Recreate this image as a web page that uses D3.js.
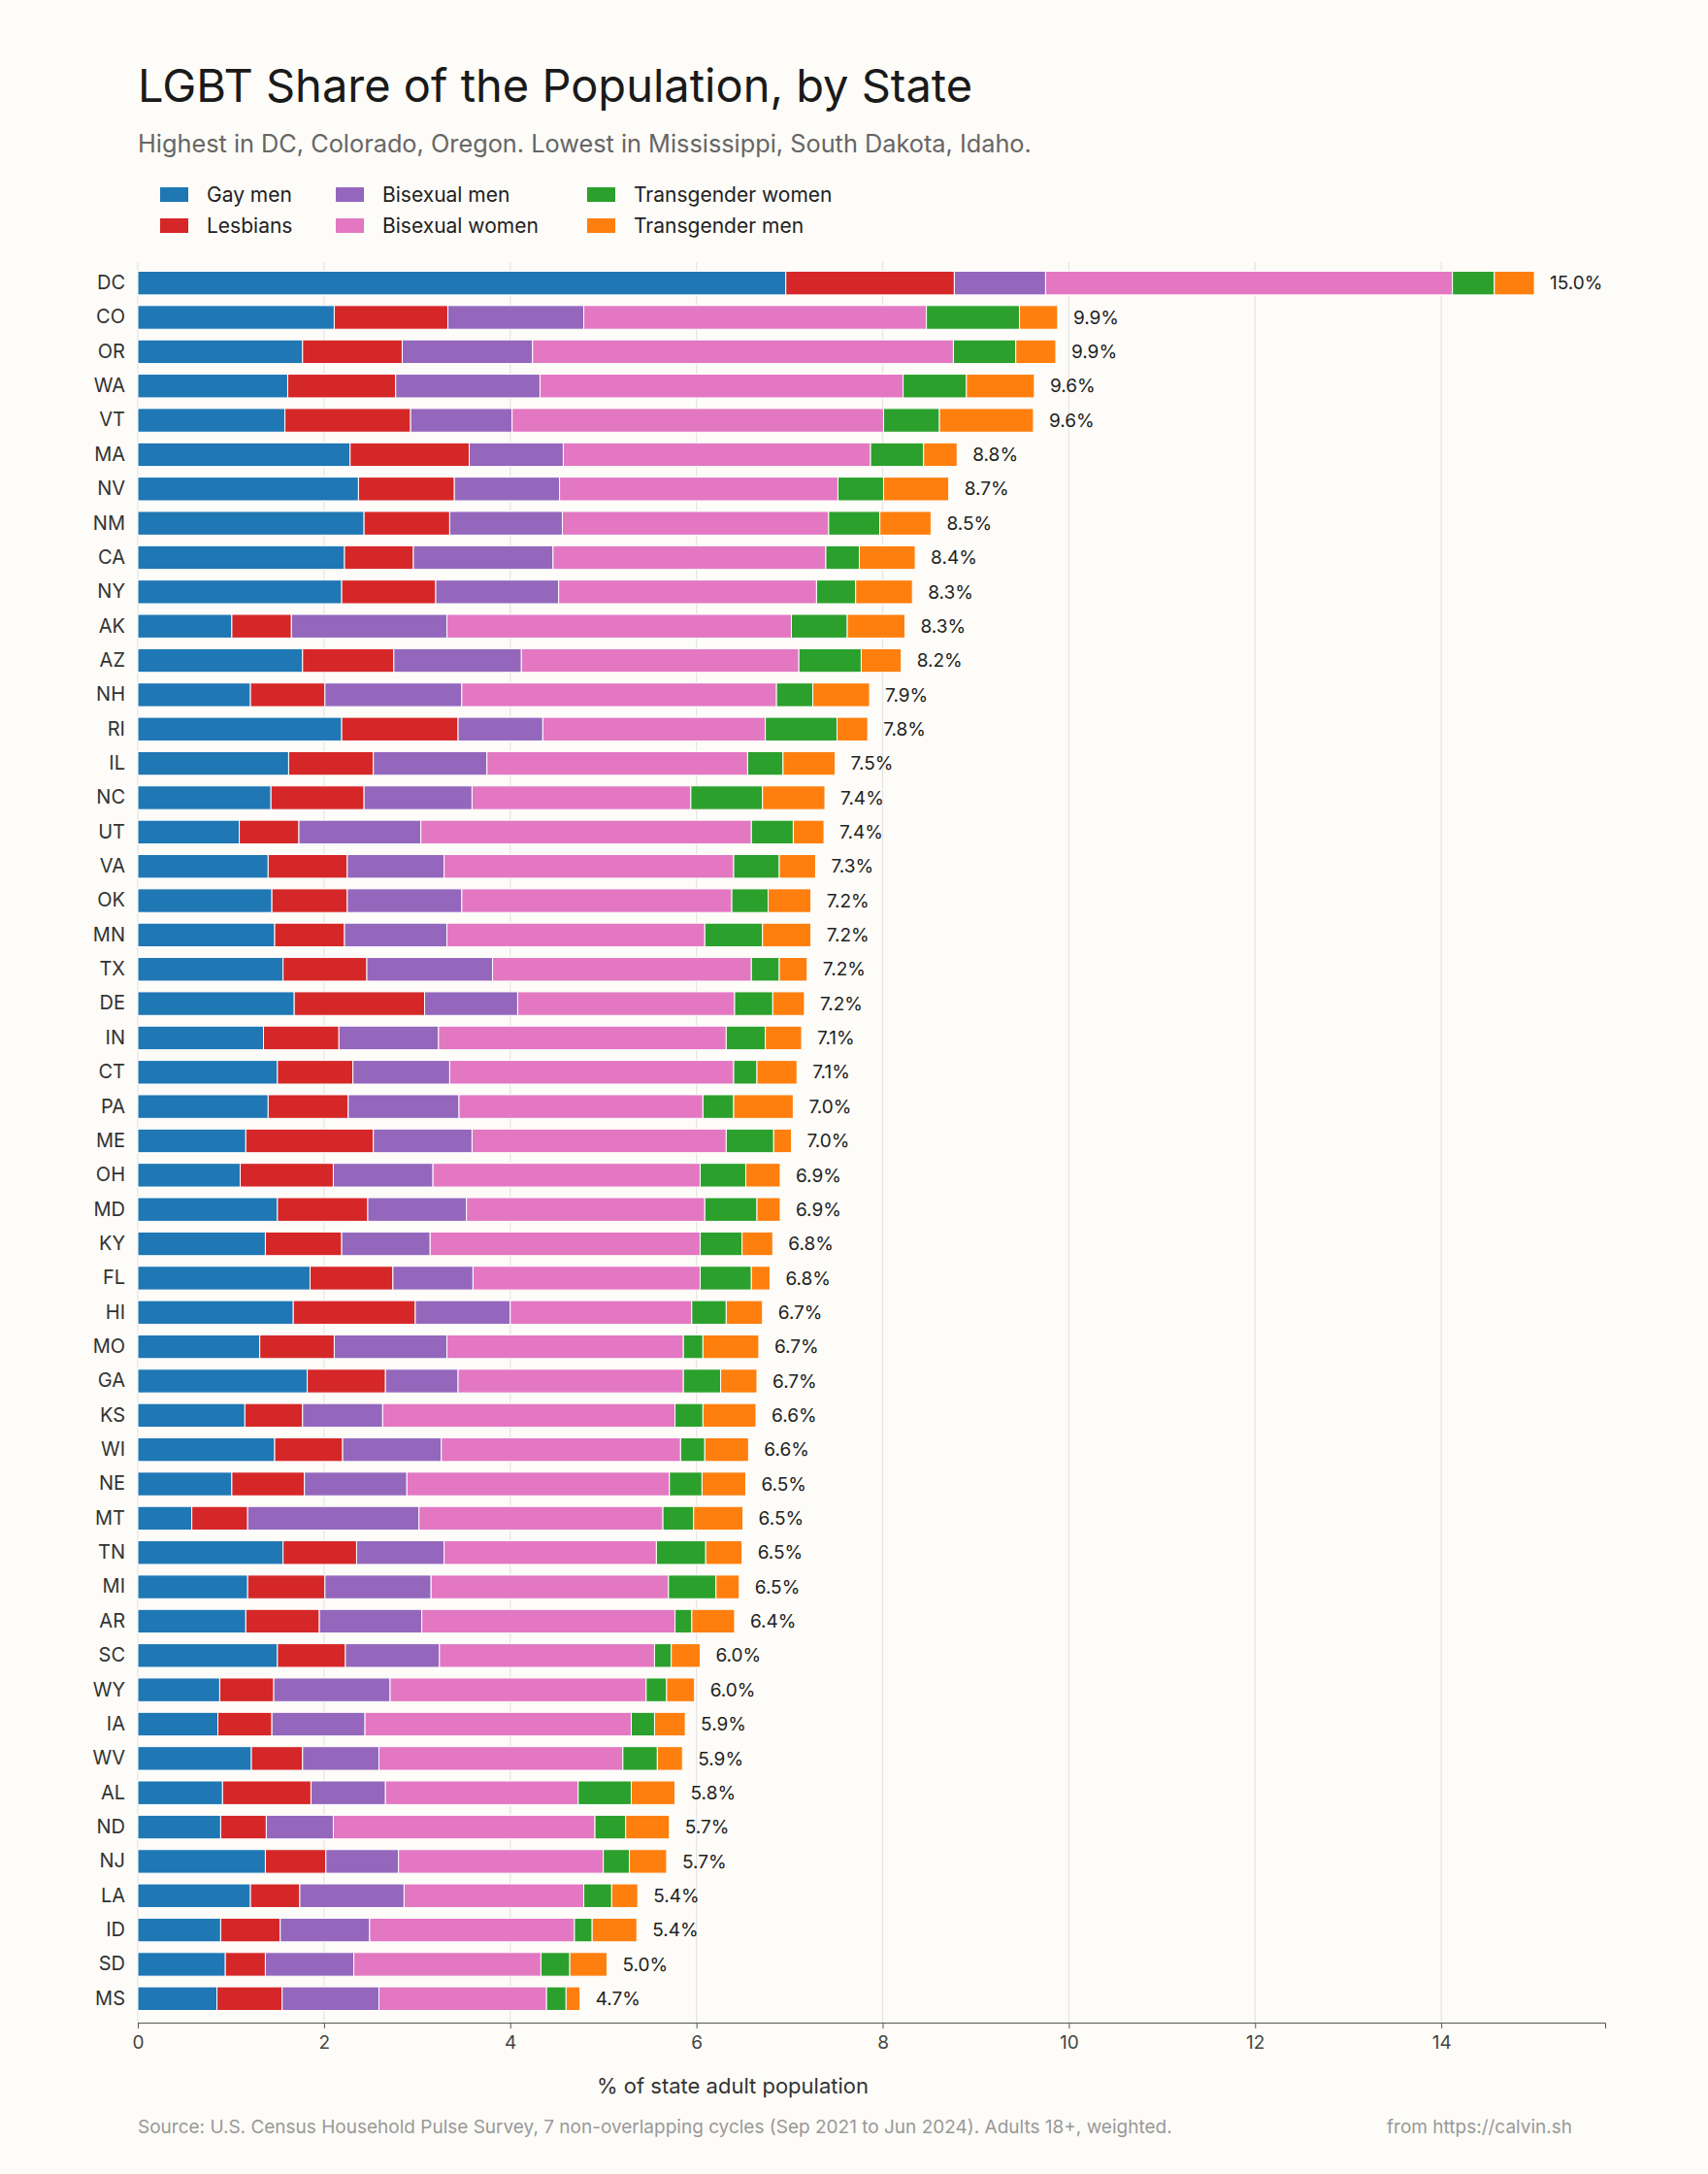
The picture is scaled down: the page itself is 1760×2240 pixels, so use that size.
<!DOCTYPE html>
<html><head><meta charset="utf-8">
<script src="https://cdn.jsdelivr.net/npm/d3@7"></script>
<style>body{margin:0;background:#fdfcf8;font-family:Inter,"Noto Sans",sans-serif}</style>
</head><body><svg id="c" width="1760" height="2240"></svg>
<script>
const states=["DC","CO","OR","WA","VT","MA","NV","NM","CA","NY","AK","AZ","NH","RI","IL","NC","UT","VA","OK","MN","TX","DE","IN","CT","PA","ME","OH","MD","KY","FL","HI","MO","GA","KS","WI","NE","MT","TN","MI","AR","SC","WY","IA","WV","AL","ND","NJ","LA","ID","SD","MS"];
const gayMen=[6.96,2.11,1.77,1.61,1.58,2.28,2.37,2.43,2.22,2.19,1.01,1.77,1.21,2.19,1.62,1.43,1.09,1.40,1.44,1.47,1.56,1.68,1.35,1.50,1.40,1.16,1.10,1.50,1.37,1.85,1.67,1.31,1.82,1.15,1.47,1.01,0.58,1.56,1.18,1.16,1.50,0.88,0.86,1.22,0.91,0.89,1.37,1.21,0.89,0.94,0.85];
const lesbians=[1.81,1.22,1.07,1.16,1.35,1.28,1.03,0.92,0.74,1.01,0.64,0.98,0.80,1.25,0.91,1.00,0.64,0.85,0.81,0.75,0.90,1.40,0.81,0.81,0.86,1.37,1.00,0.97,0.82,0.89,1.31,0.80,0.84,0.62,0.73,0.78,0.60,0.79,0.83,0.79,0.73,0.58,0.58,0.55,0.95,0.49,0.65,0.53,0.64,0.43,0.70];
const bisexualMen=[0.98,1.46,1.40,1.55,1.09,1.01,1.13,1.21,1.50,1.32,1.67,1.37,1.47,0.91,1.22,1.16,1.31,1.04,1.23,1.10,1.35,1.00,1.07,1.04,1.19,1.06,1.07,1.06,0.95,0.86,1.02,1.21,0.78,0.86,1.06,1.10,1.84,0.94,1.14,1.10,1.01,1.25,1.00,0.82,0.80,0.72,0.78,1.12,0.96,0.95,1.04];
const bisexualWomen=[4.37,3.68,4.52,3.90,3.99,3.30,2.99,2.86,2.93,2.77,3.70,2.98,3.38,2.39,2.80,2.35,3.55,3.11,2.90,2.77,2.78,2.33,3.09,3.05,2.62,2.73,2.87,2.56,2.90,2.44,1.95,2.54,2.42,3.14,2.57,2.82,2.62,2.28,2.55,2.72,2.31,2.75,2.86,2.62,2.07,2.81,2.20,1.93,2.20,2.01,1.80];
const transWomen=[0.45,1.00,0.67,0.68,0.60,0.57,0.49,0.55,0.36,0.42,0.60,0.67,0.39,0.77,0.38,0.77,0.45,0.49,0.39,0.62,0.30,0.41,0.42,0.25,0.33,0.51,0.49,0.56,0.45,0.55,0.37,0.21,0.40,0.30,0.26,0.35,0.33,0.53,0.51,0.18,0.18,0.22,0.25,0.37,0.57,0.33,0.28,0.30,0.19,0.31,0.21];
const transMen=[0.43,0.41,0.43,0.73,1.01,0.36,0.70,0.55,0.60,0.61,0.62,0.43,0.61,0.33,0.56,0.67,0.33,0.39,0.46,0.52,0.30,0.34,0.39,0.43,0.64,0.19,0.37,0.25,0.33,0.20,0.39,0.60,0.39,0.57,0.47,0.47,0.53,0.39,0.25,0.46,0.31,0.30,0.33,0.27,0.47,0.47,0.40,0.28,0.48,0.40,0.15];
const totalLabels=["15.0%","9.9%","9.9%","9.6%","9.6%","8.8%","8.7%","8.5%","8.4%","8.3%","8.3%","8.2%","7.9%","7.8%","7.5%","7.4%","7.4%","7.3%","7.2%","7.2%","7.2%","7.2%","7.1%","7.1%","7.0%","7.0%","6.9%","6.9%","6.8%","6.8%","6.7%","6.7%","6.7%","6.6%","6.6%","6.5%","6.5%","6.5%","6.5%","6.4%","6.0%","6.0%","5.9%","5.9%","5.8%","5.7%","5.7%","5.4%","5.4%","5.0%","4.7%"];
const seriesNames=["Gay men","Lesbians","Bisexual men","Bisexual women","Transgender women","Transgender men"];
const seriesColors=["#1f77b4","#d62728","#9467bd","#e377c2","#2ca02c","#ff7f0e"];
const xTicks=[0,2,4,6,8,10,12,14];

const svg=d3.select("#c");
svg.append("rect").attr("width",1760).attr("height",2240).attr("fill","#fdfcf8");
const L=142,R=1654,T=274,B=2077,AX=2084;
const x=d3.scaleLinear().domain([0,15.76]).range([L,R]);
const y=d3.scaleBand().domain(states).range([T,B]).paddingInner(0.31).paddingOuter(0.155);
const rows=states.map((s,i)=>({state:s,"Gay men":gayMen[i],"Lesbians":lesbians[i],"Bisexual men":bisexualMen[i],"Bisexual women":bisexualWomen[i],"Transgender women":transWomen[i],"Transgender men":transMen[i]}));
const stack=d3.stack().keys(seriesNames)(rows);
svg.append("g").selectAll("line").data(xTicks).join("line")
 .attr("x1",d=>x(d)).attr("x2",d=>x(d)).attr("y1",T-4).attr("y2",AX)
 .attr("stroke","#e6e6e6").attr("stroke-width",1.3);
stack.forEach((layer,k)=>{
 svg.append("g").selectAll("rect").data(layer).join("rect")
  .attr("x",d=>x(d[0])).attr("width",d=>x(d[1])-x(d[0]))
  .attr("y",d=>y(d.data.state)).attr("height",y.bandwidth())
  .attr("fill",seriesColors[k]).attr("stroke","#fff").attr("stroke-width",1);
});
const last=stack[stack.length-1];
svg.append("g").selectAll("text").data(last).join("text")
 .attr("x",d=>x(d[1])+16).attr("y",d=>y(d.data.state)+y.bandwidth()/2).attr("dy","0.35em")
 .attr("font-size",19).attr("fill","#222").text((d,i)=>totalLabels[i]);
svg.append("g").attr("transform",`translate(${L-10},0)`)
 .call(d3.axisLeft(y).tickSize(0)).call(g=>g.select(".domain").remove())
 .selectAll("text").attr("font-size",20).attr("fill","#333").attr("font-family","Inter,sans-serif");
const ax=svg.append("g").attr("transform",`translate(0,${AX})`)
 .call(d3.axisBottom(x).tickValues(xTicks).tickSize(6).tickPadding(8));
ax.select(".domain").attr("stroke","#555");
ax.selectAll("line").attr("stroke","#555");
ax.selectAll("text").attr("font-size",19).attr("fill","#444").attr("font-family","Inter,sans-serif");
svg.append("text").attr("x",755).attr("y",2157).attr("text-anchor","middle").attr("font-size",22).attr("fill","#333").text("% of state adult population");
svg.append("text").attr("x",142).attr("y",105).attr("font-size",47).attr("fill","#1a1a1a").text("LGBT Share of the Population, by State");
svg.append("text").attr("x",142).attr("y",157).attr("font-size",25.3).attr("fill","#666").text("Highest in DC, Colorado, Oregon. Lowest in Mississippi, South Dakota, Idaho.");
const lx=[165,346,605];
seriesNames.forEach((n,i)=>{
 const col=Math.floor(i/2),row=i%2;
 const g=svg.append("g").attr("transform",`translate(${lx[col]},${201+row*32})`);
 g.append("rect").attr("x",0).attr("y",-8).attr("width",29).attr("height",15).attr("fill",seriesColors[i]);
 g.append("text").attr("x",48).attr("y",0).attr("dy","0.35em").attr("font-size",21).attr("fill","#222").text(n);
});
svg.append("text").attr("x",142).attr("y",2198).attr("font-size",19).attr("fill","#999").text("Source: U.S. Census Household Pulse Survey, 7 non-overlapping cycles (Sep 2021 to Jun 2024). Adults 18+, weighted.");
svg.append("text").attr("x",1620).attr("y",2198).attr("text-anchor","end").attr("font-size",19).attr("fill","#999").text("from https://calvin.sh");
</script></body></html>
